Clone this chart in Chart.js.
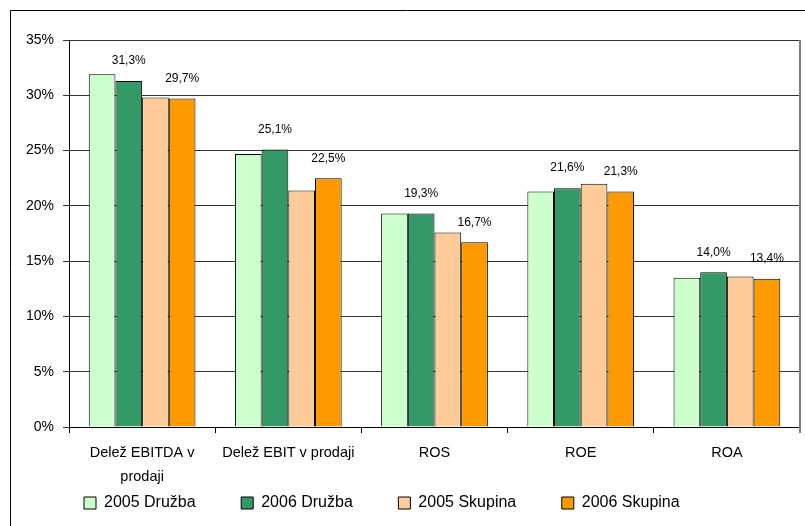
<!DOCTYPE html>
<html>
<head>
<meta charset="utf-8">
<script src="https://cdn.jsdelivr.net/npm/chart.js@4"></script>
<style>
  html, body { margin: 0; padding: 0; background: #fff; }
  #wrap { width: 805px; height: 526px; position: relative; }
</style>
</head>
<body>
<div id="wrap"><canvas id="grafico"></canvas></div>
<script>
// podatki
const kategorije = [["Delež EBITDA v", "prodaji"], "Delež EBIT v prodaji", "ROS", "ROE", "ROA"];
const druzba2005 = [31.9, 24.7, 19.3, 21.3, 13.5];
const druzba2006 = [31.3, 25.1, 19.3, 21.6, 14.0];
const skupina2005 = [29.8, 21.4, 17.6, 22.0, 13.6];
const skupina2006 = [29.7, 22.5, 16.7, 21.3, 13.4];
const yTicks = [0, 5, 10, 15, 20, 25, 30, 35];

const FONT = "'Liberation Sans', Arial, sans-serif";
const RAZMIK = "\u00A0".repeat(8); // presledek za besedilom legende
const RAZMIK_ZADNJI = "\u00A0".repeat(12);

// oznake nad stolpci (samo 2006)
const oznakePlugin = {
  id: "oznake",
  afterDatasetsDraw(chart) {
    const c = chart.ctx;
    c.save();
    c.font = "12px " + FONT;
    c.fillStyle = "#000";
    c.textAlign = "center";
    c.textBaseline = "bottom";
    [1, 3].forEach((di) => {
      const meta = chart.getDatasetMeta(di);
      meta.data.forEach((bar, i) => {
        const v = chart.data.datasets[di].data[i];
        c.fillText(v.toFixed(1).replace(".", ",") + "%", bar.x, bar.y - 14);
      });
    });
    c.restore();
  },
};

// okvir slike in desni rob grafa
const okvirPlugin = {
  id: "okvir",
  afterDraw(chart) {
    const c = chart.ctx;
    const a = chart.chartArea;
    c.save();
    c.strokeStyle = "#000";
    c.lineWidth = 1;
    c.beginPath();
    c.moveTo(10.5, 526);
    c.lineTo(10.5, 10.5);
    c.lineTo(805, 10.5);
    c.stroke();
    c.strokeStyle = "#808080";
    c.lineWidth = 2;
    c.beginPath();
    c.moveTo(a.right, a.top);
    c.lineTo(a.right, a.bottom + 6);
    c.stroke();
    c.restore();
  },
};

new Chart(document.getElementById("grafico"), {
  type: "bar",
  data: {
    labels: kategorije,
    datasets: [
      { label: "2005 Družba", data: druzba2005, backgroundColor: "#CCFFCC" },
      { label: "2006 Družba", data: druzba2006, backgroundColor: "#339966" },
      { label: "2005 Skupina", data: skupina2005, backgroundColor: "#FFCC99" },
      { label: "2006 Skupina", data: skupina2006, backgroundColor: "#FF9900" },
    ].map((d) => ({ ...d, borderColor: "#000", borderWidth: 1, borderSkipped: "bottom" })),
  },
  options: {
    responsive: true,
    maintainAspectRatio: false,
    animation: false,
    categoryPercentage: 0.73,
    barPercentage: 1.0,
    layout: { padding: { left: 17, right: 5, top: 40, bottom: 5 } },
    scales: {
      x: {
        grid: { display: true, offset: true, drawOnChartArea: false, color: "#000", tickLength: 6 },
        border: { color: "#000" },
        ticks: { color: "#000", font: { family: FONT, size: 14.5, lineHeight: 1.65 }, maxRotation: 0, padding: 8 },
        afterFit(scale) { scale.height = 58; },
      },
      y: {
        min: 0,
        max: 35,
        afterBuildTicks(axis) { axis.ticks = yTicks.map((v) => ({ value: v })); },
        grid: { color: "#333", tickLength: 6 },
        border: { color: "#000" },
        ticks: { color: "#000", font: { family: FONT, size: 14 }, padding: 9, callback: (v) => v + "%" },
      },
    },
    plugins: {
      legend: {
        position: "bottom",
        labels: {
          color: "#000",
          font: { family: FONT, size: 16 },
          boxWidth: 12,
          boxHeight: 12,
          padding: 10,
          generateLabels(chart) {
            const items = Chart.defaults.plugins.legend.labels.generateLabels(chart);
            items.forEach((it, i) => {
              it.text = it.text + (i === items.length - 1 ? RAZMIK_ZADNJI : RAZMIK);
            });
            return items;
          },
        },
      },
      tooltip: { enabled: false },
    },
  },
  plugins: [oznakePlugin, okvirPlugin],
});
</script>
</body>
</html>
